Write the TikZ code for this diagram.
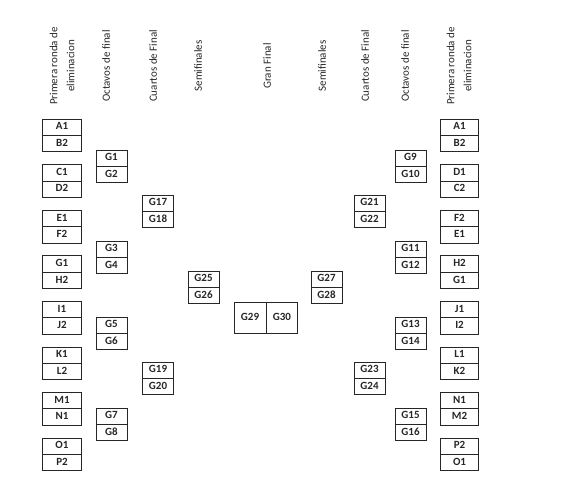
\documentclass[tikz,border=0pt]{standalone}
\usepackage{fontspec}
\setmainfont{Carlito}
\usetikzlibrary{positioning,shapes.multipart}
\colorlet{ink}{black!85}
\newcommand{\pair}[2]{\strut#1\nodepart{two}\strut#2}

\begin{document}
\begin{tikzpicture}[
   x=1pt,y=-1pt,
   stage/.style={rotate=90,align=center,text=ink,font=\fontsize{11}{17}\selectfont},
   match/.style={rectangle split,rectangle split parts=2,draw=ink,line width=0.9pt,
      inner xsep=0pt,inner ysep=1.15pt,minimum width=31pt,text=ink,
      font=\fontsize{11}{13.2}\selectfont\bfseries},
   opener/.style={match,minimum width=38.5pt},
   final/.style={match,rectangle split horizontal,inner ysep=8.9pt},
]
\useasboundingbox (0,0) rectangle (564,495);

% round headers
\node[stage] (hPrimL) at (62,66) {Primera ronda de\\eliminacion};
\node[stage] (hOctL) at (106,66) {Octavos de final};
\node[stage] (hCuaL) at (153,66) {Cuartos de Final};
\node[stage] (hSemL) at (198,66) {Semifinales};
\node[stage] (hGran) at (267,66) {Gran Final};
\node[stage] (hSemR) at (322,66) {Semifinales};
\node[stage] (hCuaR) at (365,66) {Cuartos de Final};
\node[stage] (hOctR) at (405,66) {Octavos de final};
\node[stage] (hPrimR) at (459,66) {Primera ronda de\\eliminacion};

% first round, left
\node[opener] (r1L1) at (62,135.5) {\pair{A1}{B2}};
\node[opener] (r1L2) at (62,181.1) {\pair{C1}{D2}};
\node[opener] (r1L3) at (62,226.6) {\pair{E1}{F2}};
\node[opener] (r1L4) at (62,272.2) {\pair{G1}{H2}};
\node[opener] (r1L5) at (62,317.8) {\pair{I1}{J2}};
\node[opener] (r1L6) at (62,363.4) {\pair{K1}{L2}};
\node[opener] (r1L7) at (62,408.9) {\pair{M1}{N1}};
\node[opener] (r1L8) at (62,454.5) {\pair{O1}{P2}};

% octavos, left
\node[match] (oL1) at (111.5,166.5) {\pair{G1}{G2}};
\node[match] (oL2) at (111.5,257.5) {\pair{G3}{G4}};
\node[match] (oL3) at (111.5,333.5) {\pair{G5}{G6}};
\node[match] (oL4) at (111.5,424.5) {\pair{G7}{G8}};

% cuartos and semifinal, left
\node[match] (qL1) at (158,211.5) {\pair{G17}{G18}};
\node[match] (qL2) at (158,378.5) {\pair{G19}{G20}};
\node[match] (sL) at (203.5,287.5) {\pair{G25}{G26}};

% gran final
\node[final] (fin) at (266,317.5)
   {\strut\makebox[31pt]{G29}\nodepart{two}\strut\makebox[31pt]{G30}};

% semifinal and cuartos, right
\node[match] (sR) at (326.5,287.5) {\pair{G27}{G28}};
\node[match] (qR1) at (369.5,211.5) {\pair{G21}{G22}};
\node[match] (qR2) at (369.5,378.5) {\pair{G23}{G24}};

% octavos, right
\node[match] (oR1) at (410.5,166.5) {\pair{G9}{G10}};
\node[match] (oR2) at (410.5,257.5) {\pair{G11}{G12}};
\node[match] (oR3) at (410.5,333.5) {\pair{G13}{G14}};
\node[match] (oR4) at (410.5,424.5) {\pair{G15}{G16}};

% first round, right
\node[opener] (r1R1) at (459.5,135.5) {\pair{A1}{B2}};
\node[opener] (r1R2) at (459.5,181.1) {\pair{D1}{C2}};
\node[opener] (r1R3) at (459.5,226.6) {\pair{F2}{E1}};
\node[opener] (r1R4) at (459.5,272.2) {\pair{H2}{G1}};
\node[opener] (r1R5) at (459.5,317.8) {\pair{J1}{I2}};
\node[opener] (r1R6) at (459.5,363.4) {\pair{L1}{K2}};
\node[opener] (r1R7) at (459.5,408.9) {\pair{N1}{M2}};
\node[opener] (r1R8) at (459.5,454.5) {\pair{P2}{O1}};
\end{tikzpicture}
\end{document}
